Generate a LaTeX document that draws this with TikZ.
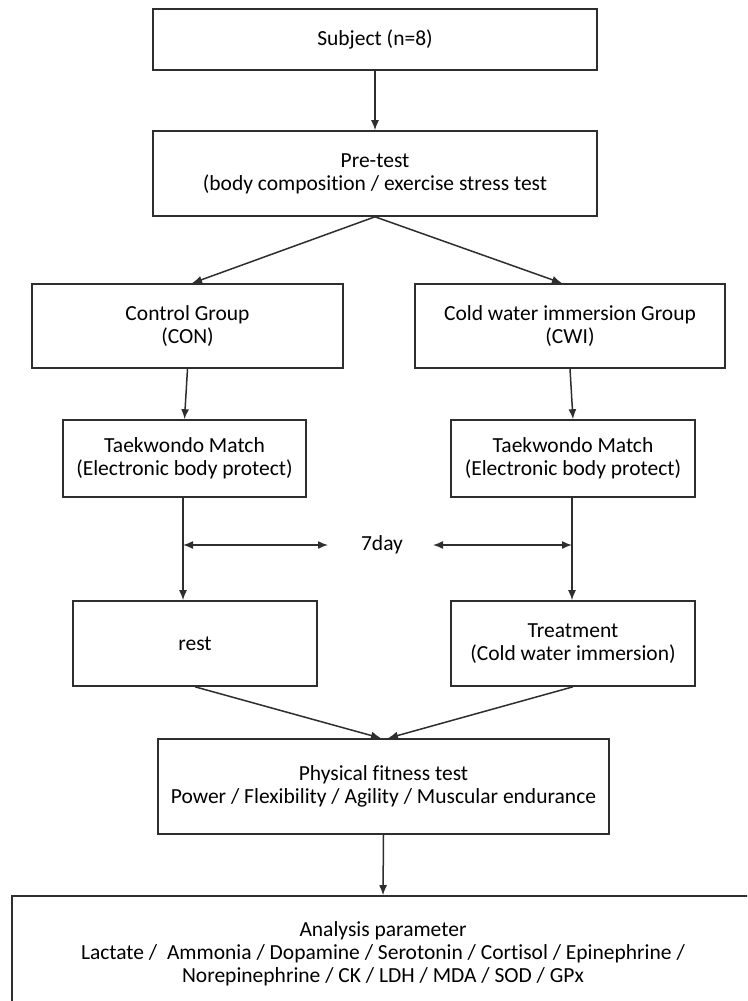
\documentclass[tikz,border=0pt]{standalone}
\usepackage{fontspec}
\setmainfont[Ligatures=NoCommon]{Carlito}
\usetikzlibrary{arrows.meta,calc}
\definecolor{linegray}{HTML}{2E2E2E}
\begin{document}
\begin{tikzpicture}[x=1pt,y=-1pt,
  box/.style={draw=linegray, line width=1.6pt, inner sep=0pt, align=center,
    font=\fontsize{21.5}{23}\selectfont, text=black},
  lbl/.style={inner sep=0pt, font=\fontsize{21.5}{23}\selectfont, text=black},
  arr/.style={draw=linegray, line width=1.5pt, -{Latex[length=10pt,width=8pt]}},
  darr/.style={draw=linegray, line width=1.5pt, {Latex[length=10pt,width=8pt]}-{Latex[length=10pt,width=8pt]}}]
\path[use as bounding box, fill=white] (0,0) rectangle (747,1001);
\clip (0,0) rectangle (747,1001);

\node[box, minimum width=444pt, minimum height=61pt] (subj) at (375,39.5) {Subject (n=8)};
\node[box, minimum width=444pt, minimum height=85pt] (pre) at (375,173.5) {Pre-test\\(body composition / exercise stress  test};
\node[box, minimum width=311pt, minimum height=84pt] (con) at (187.5,326) {Control Group\\(CON)};
\node[box, minimum width=310pt, minimum height=84pt] (cwi) at (570,326) {Cold water immersion Group\\(CWI)};
\node[box, minimum width=243pt, minimum height=77pt] (tkl) at (184.5,458.5) {Taekwondo Match\\(Electronic body protect)};
\node[box, minimum width=244pt, minimum height=77pt] (tkr) at (573,458.5) {Taekwondo Match\\(Electronic body protect)};
\node[box, minimum width=244pt, minimum height=85pt] (rest) at (195,643.5) {rest};
\node[box, minimum width=244pt, minimum height=85pt] (treat) at (573,643.5) {Treatment\\(Cold water immersion)};
\node[box, minimum width=451pt, minimum height=95pt] (phys) at (383.5,786.5) {Physical fitness test\\Power / Flexibility / Agility / Muscular endurance};
\node[box, minimum width=742pt, minimum height=116pt] (ana) at (383,954) {Analysis parameter\\Lactate /~~Ammonia / Dopamine / Serotonin / Cortisol / Epinephrine /\\Norepinephrine / CK / LDH / MDA / SOD / GPx};
\node[lbl] (day) at (382,545) {7day};

\coordinate (lx) at (183,0);
\coordinate (rx) at (572,0);
\coordinate (pl) at (192,0);
\coordinate (pr) at (562,0);
\coordinate (fl) at (381,0);
\coordinate (fr) at (388,0);
\coordinate (dl) at (328,545);
\coordinate (dr) at (433,545);

\draw[arr] (subj.south) -- (pre.north);
\draw[arr] (pre.south) -- (con.north -| pl);
\draw[arr] (pre.south) -- (cwi.north -| pr);
\draw[arr] (con.south) -- (tkl.north);
\draw[arr] (cwi.south) -- (tkr.north);
\draw[arr] (tkl.south -| lx) -- (rest.north -| lx);
\draw[arr] (tkr.south -| rx) -- (treat.north -| rx);
\draw[darr] (dl -| lx) -- (dl);
\draw[darr] (dr) -- (dr -| rx);
\draw[arr] (rest.south) -- (phys.north -| fl);
\draw[arr] (treat.south) -- (phys.north -| fr);
\draw[arr] (phys.south) -- (ana.north);
\end{tikzpicture}
\end{document}
